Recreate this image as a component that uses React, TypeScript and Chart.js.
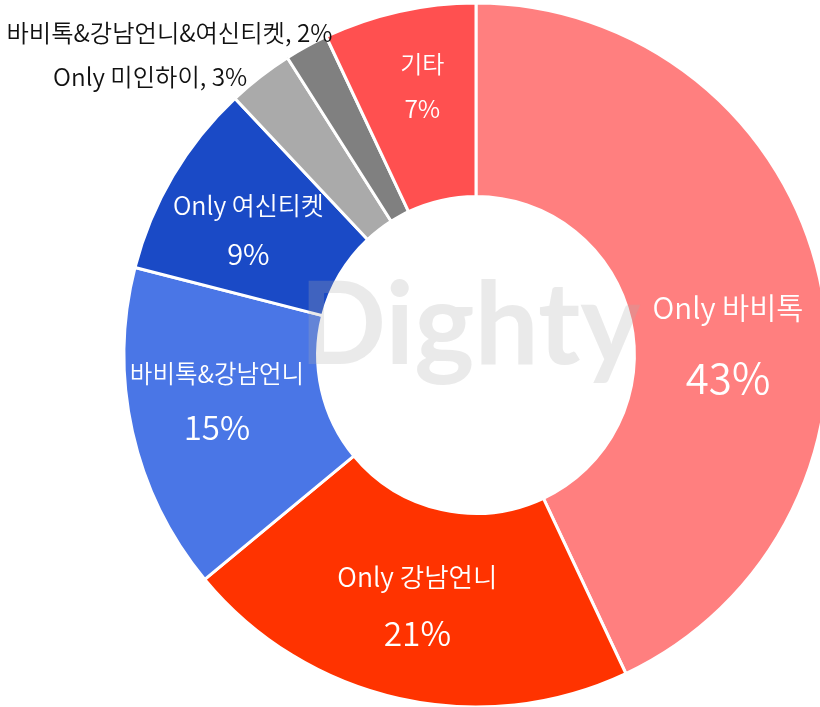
import { useEffect, useRef } from "react";
import { Chart, registerables } from "chart.js";

Chart.register(...registerables);

// ---- data ----
const categories = [
  "Only 바비톡",
  "Only 강남언니",
  "바비톡&강남언니",
  "Only 여신티켓",
  "Only 미인하이",
  "바비톡&강남언니&여신티켓",
  "기타",
];
const values = [43, 21, 15, 9, 3, 2, 7];
const colors = ["#FF7F7F", "#FF3300", "#4A76E6", "#1A4AC6", "#AAAAAA", "#808080", "#FF5050"];
const watermarkText = "Dighty";

// ---- label styles (offsets relative to slice mid-point) ----
const labelStyles = [
  { outside: false, dx: 3, nameDy: 8, pctDy: 79, nameSize: 29.5, pctSize: 42 },
  { outside: false, dx: -3, nameDy: -27, pctDy: 29, nameSize: 26.5, pctSize: 33.5 },
  { outside: false, dx: -10, nameDy: -37, pctDy: 17, nameSize: 24.5, pctSize: 33 },
  { outside: false, dx: -8, nameDy: -20, pctDy: 29, nameSize: 25, pctSize: 29 },
  { outside: true, dx: -13, nameDy: 0, pctDy: 0, nameSize: 24.3, pctSize: 24.3 },
  { outside: true, dx: 26, nameDy: -14, pctDy: 0, nameSize: 24.3, pctSize: 24.3 },
  { outside: false, dx: 2, nameDy: -42, pctDy: 3, nameSize: 24, pctSize: 24.5 },
];

const FONT = '"Noto Sans CJK KR", "Noto Sans", sans-serif';
const WEIGHT = 350;

const labelPlugin = {
  id: "sliceLabels",
  afterDatasetsDraw(chart: any) {
    const ctx = chart.ctx;
    const meta = chart.getDatasetMeta(0);
    meta.data.forEach((arc: any, i: number) => {
      const p = arc.getProps(["x", "y", "startAngle", "endAngle", "innerRadius", "outerRadius"], true);
      const mid = (p.startAngle + p.endAngle) / 2;
      const st = labelStyles[i];
      ctx.save();
      ctx.textBaseline = "middle";
      if (st.outside) {
        const ox = p.x + Math.cos(mid) * p.outerRadius + st.dx;
        const oy = p.y + Math.sin(mid) * p.outerRadius + st.nameDy;
        ctx.font = `${WEIGHT} ${st.nameSize}px ${FONT}`;
        ctx.fillStyle = "#111111";
        ctx.textAlign = "right";
        ctx.fillText(`${categories[i]}, ${values[i]}%`, ox, oy);
      } else {
        const r = (p.innerRadius + p.outerRadius) / 2;
        const cx = p.x + Math.cos(mid) * r + st.dx;
        const cy = p.y + Math.sin(mid) * r;
        ctx.fillStyle = "#FFFFFF";
        ctx.textAlign = "center";
        ctx.font = `${WEIGHT} ${st.nameSize}px ${FONT}`;
        ctx.fillText(categories[i], cx, cy + st.nameDy);
        ctx.font = `${WEIGHT} ${st.pctSize}px ${FONT}`;
        ctx.fillText(`${values[i]}%`, cx, cy + st.pctDy);
      }
      ctx.restore();
    });
  },
  afterDraw(chart: any) {
    const ctx = chart.ctx;
    const arc = chart.getDatasetMeta(0).data[0];
    if (!arc) return;
    const { x, y } = arc.getProps(["x", "y"], true);
    ctx.save();
    ctx.font = `bold 114px "Lato", "Noto Sans", sans-serif`;
    ctx.fillStyle = "rgba(175,175,175,0.26)";
    ctx.textAlign = "center";
    ctx.textBaseline = "alphabetic";
    ctx.fillText(watermarkText, x - 6, y + 9);
    ctx.restore();
  },
};

export default function App() {
  const ref = useRef<HTMLCanvasElement | null>(null);
  useEffect(() => {
    if (!ref.current) return;
    const chart = new Chart(ref.current, {
      type: "doughnut",
      data: {
        labels: categories,
        datasets: [
          {
            data: values,
            backgroundColor: colors,
            borderColor: "#FFFFFF",
            borderWidth: 3,
          },
        ],
      },
      options: {
        responsive: false,
        animation: false,
        cutout: "45%",
        layout: { padding: { left: 122.5, right: 10.5, top: 1.5, bottom: 1.5 } },
        plugins: { legend: { display: false }, tooltip: { enabled: false } },
      },
      plugins: [labelPlugin],
    } as any);
    return () => chart.destroy();
  }, []);
  return (
    <div
      style={{
        position: "fixed",
        left: 0,
        top: 0,
        width: 820,
        height: 707,
        overflow: "hidden",
        background: "#FFFFFF",
      }}
    >
      <canvas ref={ref} width={840} height={710} style={{ display: "block" }} />
    </div>
  );
}
